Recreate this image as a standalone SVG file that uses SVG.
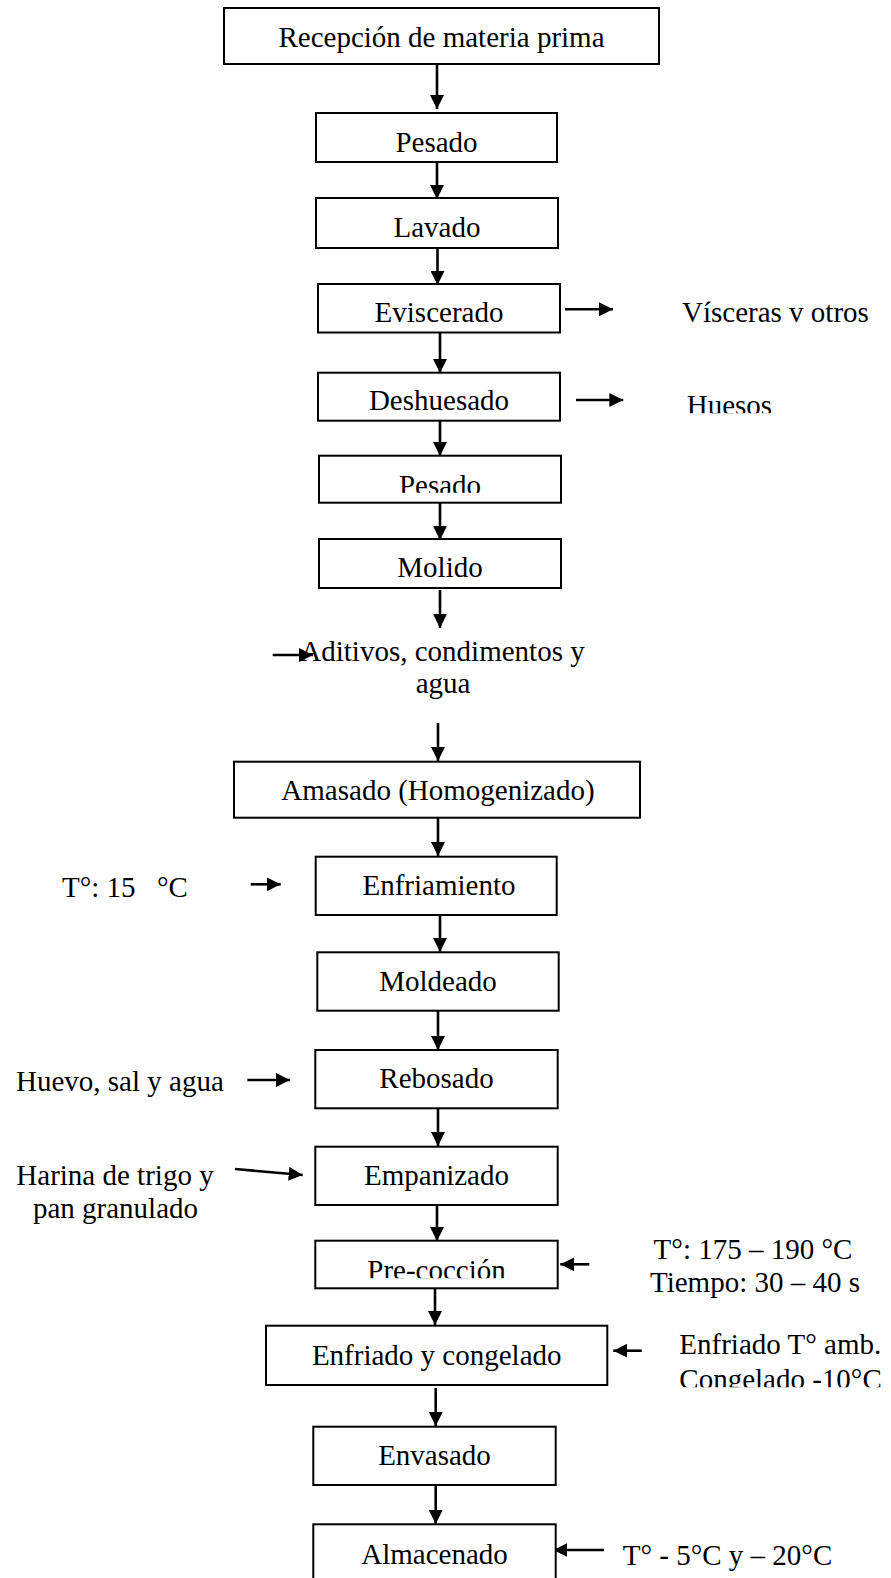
<svg xmlns="http://www.w3.org/2000/svg" width="891" height="1578" viewBox="0 0 891 1578">
<style>
.box{fill:#fff;stroke:#000;stroke-width:2}
.t{font-family:"Liberation Serif","Times New Roman",serif;font-size:29px;fill:#000}
.c{text-anchor:middle}
.a{stroke:#000;stroke-width:2.6;fill:none;marker-end:url(#ah)}
</style>
<defs>
<marker id="ah" markerUnits="userSpaceOnUse" markerWidth="15" markerHeight="14" refX="14" refY="7" orient="auto" viewBox="0 0 15 14">
<path d="M0,0 L14,7 L0,14 z" fill="#000"/>
</marker>
<clipPath id="cpPes"><rect x="300" y="440" width="300" height="52.7"/></clipPath>
<clipPath id="cpHue"><rect x="660" y="370" width="200" height="43.3"/></clipPath>
<clipPath id="cpPre"><rect x="300" y="1230" width="300" height="48.3"/></clipPath>
<clipPath id="cpCon"><rect x="660" y="1340" width="231" height="47.3"/></clipPath>
</defs>
<rect width="891" height="1578" fill="#fff"/>

<g id="connectors">
<line class="a" x1="437" y1="64" x2="437" y2="109"/>
<line class="a" x1="437" y1="162" x2="437" y2="199"/>
<line class="a" x1="437.5" y1="248" x2="437.5" y2="285"/>
<line class="a" x1="440" y1="333" x2="440" y2="373"/>
<line class="a" x1="440" y1="421" x2="440" y2="456"/>
<line class="a" x1="440" y1="503" x2="440" y2="540"/>
<line class="a" x1="440" y1="590" x2="440" y2="628"/>
<line class="a" x1="438" y1="723" x2="438" y2="761"/>
<line class="a" x1="438" y1="818" x2="438" y2="856"/>
<line class="a" x1="440" y1="915" x2="440" y2="952"/>
<line class="a" x1="438" y1="1011" x2="438" y2="1050"/>
<line class="a" x1="438" y1="1108" x2="438" y2="1146"/>
<line class="a" x1="437" y1="1205" x2="437" y2="1241"/>
<line class="a" x1="435" y1="1288" x2="435" y2="1325"/>
<line class="a" x1="435.7" y1="1388" x2="435.7" y2="1426"/>
<line class="a" x1="435.7" y1="1485" x2="435.7" y2="1524"/>
<line class="a" x1="565" y1="309.3" x2="613" y2="309.3"/>
<line class="a" x1="576" y1="400" x2="623.3" y2="400"/>
<line class="a" x1="272.7" y1="655" x2="313" y2="655"/>
<line class="a" x1="250.7" y1="884.3" x2="280.7" y2="884.3"/>
<line class="a" x1="247.3" y1="1080" x2="290" y2="1080"/>
<line class="a" x1="235" y1="1169" x2="302.7" y2="1175"/>
<line class="a" x1="589.3" y1="1264.3" x2="560.3" y2="1264.3"/>
<line class="a" x1="641.7" y1="1350.7" x2="613.3" y2="1350.7"/>
<line class="a" x1="604" y1="1550" x2="553.3" y2="1550"/>
</g>

<g id="n1"><rect class="box" x="224" y="8" width="435" height="56"/><text class="t c" x="441.5" y="47">Recepción de materia prima</text></g>
<g id="n2"><rect class="box" x="316" y="113" width="241" height="49"/><text class="t c" x="436.5" y="152">Pesado</text></g>
<g id="n3"><rect class="box" x="316" y="198" width="242" height="50"/><text class="t c" x="437" y="237">Lavado</text></g>
<g id="n4"><rect class="box" x="318" y="284" width="242" height="48.5"/><text class="t c" x="439" y="321.7">Eviscerado</text></g>
<g id="n5"><rect class="box" x="318" y="372.7" width="242" height="48"/><text class="t c" x="439" y="410">Deshuesado</text></g>
<g id="n6"><rect class="box" x="319" y="455.7" width="242" height="47"/><text class="t c" x="440" y="495" clip-path="url(#cpPes)">Pesado</text></g>
<g id="n7"><rect class="box" x="319" y="539" width="242" height="49"/><text class="t c" x="440" y="576.7">Molido</text></g>
<g id="n8"><rect class="box" x="234" y="761.7" width="406" height="56"/><text class="t c" x="438" y="800">Amasado (Homogenizado)</text></g>
<g id="n9"><rect class="box" x="315.7" y="856.7" width="241" height="58.3"/><text class="t c" x="439" y="895">Enfriamiento</text></g>
<g id="n10"><rect class="box" x="317.3" y="952.3" width="241.4" height="58.4"/><text class="t c" x="438" y="990.7">Moldeado</text></g>
<g id="n11"><rect class="box" x="315.3" y="1050" width="242.4" height="58.3"/><text class="t c" x="436.5" y="1088.3">Rebosado</text></g>
<g id="n12"><rect class="box" x="315.3" y="1146.7" width="242.4" height="58.3"/><text class="t c" x="436.5" y="1185">Empanizado</text></g>
<g id="n13"><rect class="box" x="315.3" y="1240.7" width="242.4" height="47.6"/><text class="t c" x="436.5" y="1280" clip-path="url(#cpPre)">Pre-cocción</text></g>
<g id="n14"><rect class="box" x="266" y="1325.7" width="341.3" height="59.3"/><text class="t c" x="436.7" y="1365">Enfriado y congelado</text></g>
<g id="n15"><rect class="box" x="313.3" y="1426.7" width="242.4" height="58.3"/><text class="t c" x="434.5" y="1465">Envasado</text></g>
<g id="n16"><rect class="box" x="313.3" y="1524.3" width="242.4" height="80"/><text class="t c" x="434.5" y="1564">Almacenado</text></g>

<g id="labels">
<text class="t" x="682" y="321.7">Vísceras v otros</text>
<text class="t" x="686.7" y="415" clip-path="url(#cpHue)">Huesos</text>
<text class="t c" x="442.5" y="660.7">Aditivos, condimentos y</text>
<text class="t c" x="443" y="693">agua</text>
<text class="t" x="62" y="896.7">T°: 15 <tspan x="157">°C</tspan></text>
<text class="t" x="16" y="1090.7">Huevo, sal y agua</text>
<text class="t c" x="115" y="1185">Harina de trigo y</text>
<text class="t c" x="115.5" y="1218.3">pan granulado</text>
<text class="t c" x="753" y="1259">T°: 175 – 190 °C</text>
<text class="t c" x="755" y="1291.7">Tiempo: 30 – 40 s</text>
<text class="t" x="679.3" y="1354">Enfriado T° amb.</text>
<text class="t" x="679.3" y="1389" clip-path="url(#cpCon)">Congelado -10°C</text>
<text class="t" x="622.7" y="1565">T° - 5°C y – 20°C</text>
</g>
</svg>
